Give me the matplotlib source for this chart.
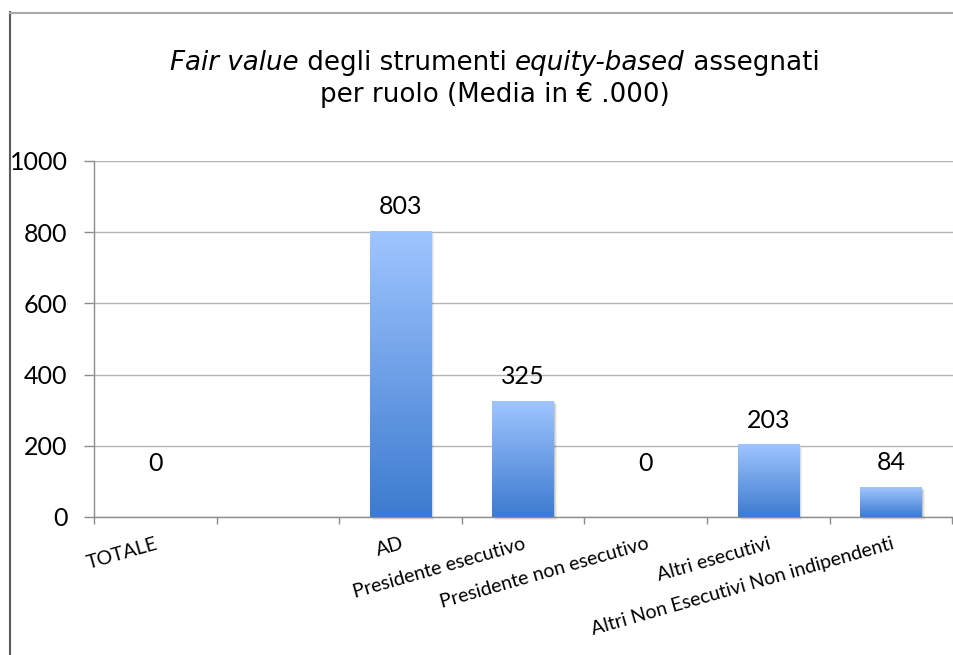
import numpy as np
import matplotlib
matplotlib.use("Agg")
import matplotlib.pyplot as plt
from matplotlib.colors import LinearSegmentedColormap
from matplotlib.patches import Rectangle
from matplotlib.lines import Line2D

# Data
categories = ["TOTALE", "", "AD", "Presidente esecutivo",
              "Presidente non esecutivo", "Altri esecutivi",
              "Altri Non Esecutivi Non indipendenti"]
values = [0, np.nan, 803, 325, 0, 203, 84]
y_ticks = [0, 200, 400, 600, 800, 1000]

W, H = 954, 655
fig = plt.figure(figsize=(W / 100, H / 100), dpi=100)
fig.patch.set_facecolor("white")

label_font = "Lato"

ax_left = 94
slot_px = 122.6
ax = fig.add_axes([ax_left / W, 138 / H, (W - ax_left) / W, 356 / H])
n = len(categories)
x = np.arange(n)
x_hi = -0.5 + (W - ax_left) / slot_px
ax.set_xlim(-0.5, x_hi)
ax.set_ylim(0, 1000)

# Gridlines and spines
ax.set_yticks(y_ticks)
ax.yaxis.grid(True, color="#b4b4b4", linewidth=1.0)
ax.set_axisbelow(True)
for s in ["top", "right"]:
    ax.spines[s].set_visible(False)
ax.spines["left"].set_color("#8c8c8c")
ax.spines["bottom"].set_color("#8c8c8c")
ax.spines["left"].set_linewidth(1.0)
ax.spines["bottom"].set_linewidth(1.0)

ax.tick_params(axis="y", length=7, width=1, color="#8c8c8c", pad=12,
               labelsize=18)
for t in ax.get_yticklabels():
    t.set_fontfamily(label_font)

# Category boundaries carry tick marks, centres carry the labels
ax.set_xticks(np.arange(-0.5, n, 1.0), minor=True)
ax.set_xticks(x)
ax.set_xticklabels(categories, rotation=16, ha="right", va="top",
                   rotation_mode="anchor", fontsize=14, family=label_font)
ax.tick_params(axis="x", which="major", length=0, pad=13)
ax.tick_params(axis="x", which="minor", length=5, width=1, color="#8c8c8c")

# Gradient bars
cmap = LinearSegmentedColormap.from_list("barfill", ["#3c7bcf", "#9fc5ff"])
grad = np.linspace(0, 1, 256).reshape(-1, 1)
bar_w = 0.5
px_x = 1.0 / slot_px
px_y = 1000.0 / 356
for xi, v in zip(x, values):
    if np.isnan(v):
        continue
    if v > 0:
        # soft drop shadow
        for k, a in [(3, 0.06), (2, 0.08), (1, 0.10)]:
            ax.add_patch(Rectangle((xi - bar_w / 2 + k * px_x, -k * px_y),
                                   bar_w, v, facecolor="#000000", alpha=a,
                                   edgecolor="none", zorder=2, clip_on=False))
        ax.imshow(grad, cmap=cmap, aspect="auto", origin="lower",
                  extent=[xi - bar_w / 2, xi + bar_w / 2, 0, v], zorder=3,
                  interpolation="bilinear")
    off = 13 if v > 0 else 42
    ax.annotate(f"{v:.0f}", xy=(xi, v), xytext=(0, off),
                textcoords="offset pixels", ha="center", va="bottom",
                fontsize=18, family=label_font, color="black", zorder=5)

ax.set_xlim(-0.5, x_hi)
ax.set_ylim(0, 1000)

# Title with italic parts
line1 = [("Fair value", "italic"), (" degli strumenti ", "normal"),
         ("equity-based", "italic"), (" assegnati", "normal")]
line2 = "per ruolo (Media in € .000)"
title_size = 18.8
renderer = fig.canvas.get_renderer()
pieces = []
for txt, style in line1:
    t = fig.text(0, 0, txt, fontsize=title_size, style=style,
                 family="DejaVu Sans", va="baseline", ha="left")
    pieces.append(t)
widths = [p.get_window_extent(renderer).width for p in pieces]
total = sum(widths)
xs = 495 - total / 2
y1 = H - 70
for p, w in zip(pieces, widths):
    p.set_position((xs / W, y1 / H))
    xs += w
fig.text(495 / W, (H - 102) / H, line2, fontsize=title_size,
         family="DejaVu Sans", va="baseline", ha="center")

# Frame lines around the chart area
fig.add_artist(Line2D([10.5 / W, 10.5 / W], [0, (H - 12) / H],
                      color="#5a5a5a", linewidth=1.5))
fig.add_artist(Line2D([10 / W, 1], [(H - 12.5) / H, (H - 12.5) / H],
                      color="#a8a8a8", linewidth=1.5))

fig.savefig("out.png", dpi=100)
